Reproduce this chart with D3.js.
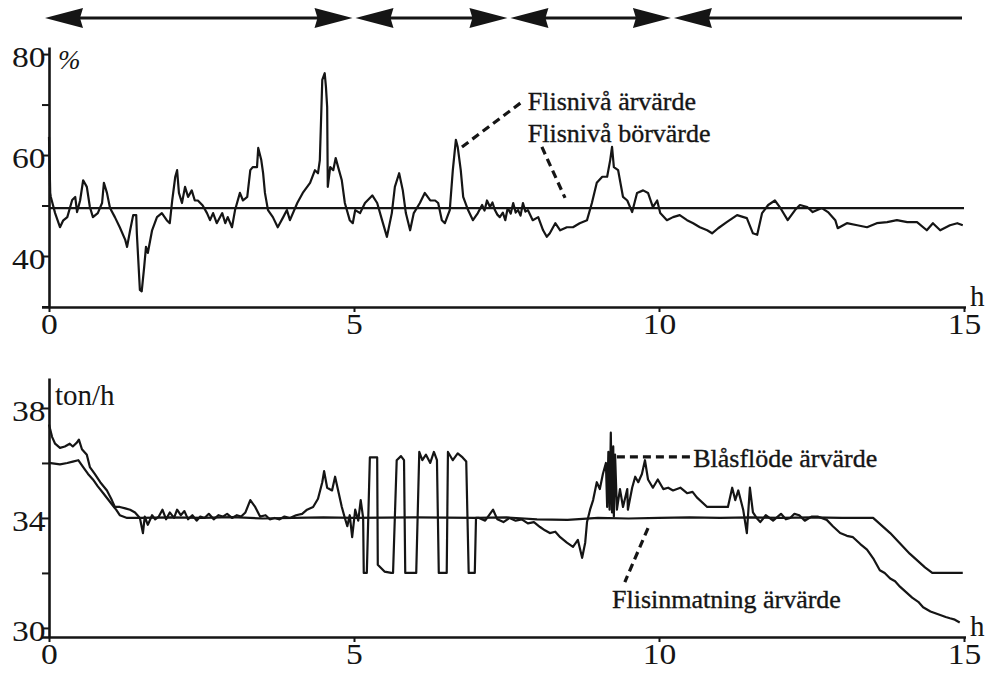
<!DOCTYPE html>
<html>
<head>
<meta charset="utf-8">
<script src="https://cdn.jsdelivr.net/npm/d3@7"></script>
<style>
  body { margin: 0; background: #fff; }
  svg { display: block; }
  text { font-family: "Liberation Serif", Tinos, "Times New Roman", "DejaVu Serif", serif; fill: #151515; }
</style>
</head>
<body>
<svg id="chart" width="991" height="678"></svg>
<script>
// ---- Data -------------------------------------------------------------
// Time axis (hours)
const hourTicks = [0, 5, 10, 15];

// Chip level, actual value (%) as [hour, value]
const flisnivaArvarde = [
  [0.00,63.6],[0.02,52.5],[0.03,51.7],[0.10,48.5],[0.18,45.7],[0.23,47.0],[0.30,47.7],[0.38,51.1],
  [0.43,51.7],[0.46,48.7],[0.51,51.0],[0.56,55.0],[0.62,53.7],[0.67,49.7],[0.72,47.7],[0.80,48.5],
  [0.87,50.5],[0.90,54.5],[0.95,52.5],[1.00,49.5],[1.08,47.7],[1.16,45.7],[1.25,43.2],[1.28,41.8],
  [1.33,45.1],[1.38,48.1],[1.43,48.1],[1.44,44.5],[1.49,33.3],[1.52,33.0],[1.56,37.8],[1.59,41.8],
  [1.62,40.6],[1.69,45.1],[1.77,47.7],[1.85,48.5],[1.93,47.1],[1.98,46.5],[2.02,51.0],[2.07,55.7],
  [2.10,57.0],[2.13,52.5],[2.18,50.5],[2.23,53.7],[2.28,51.7],[2.34,53.0],[2.39,51.0],[2.44,51.0],
  [2.52,50.0],[2.59,48.5],[2.64,47.1],[2.69,48.5],[2.75,46.5],[2.84,48.5],[2.89,46.5],[2.93,47.7],
  [3.00,45.7],[3.05,49.1],[3.13,52.5],[3.18,51.0],[3.25,51.7],[3.30,57.0],[3.34,57.6],[3.41,57.6],
  [3.43,61.4],[3.48,59.0],[3.51,56.4],[3.54,52.5],[3.59,49.1],[3.67,47.7],[3.75,45.7],[3.84,47.7],
  [3.90,49.1],[3.95,47.1],[4.07,50.5],[4.16,52.5],[4.28,54.5],[4.36,57.0],[4.41,56.4],[4.44,59.0],
  [4.48,74.9],[4.52,76.2],[4.54,73.5],[4.56,69.5],[4.57,53.7],[4.61,57.6],[4.66,57.0],[4.70,59.4],
  [4.74,57.6],[4.80,55.0],[4.85,50.5],[4.93,47.1],[4.98,46.5],[5.02,49.1],[5.10,48.5],[5.18,50.5],
  [5.30,52.0],[5.38,50.5],[5.46,47.1],[5.54,43.8],[5.62,48.5],[5.67,53.7],[5.74,56.4],[5.80,53.0],
  [5.85,48.5],[5.92,45.1],[5.98,48.5],[6.08,50.5],[6.16,52.5],[6.25,51.0],[6.33,51.0],[6.38,50.5],
  [6.44,47.1],[6.49,46.5],[6.57,49.1],[6.62,57.0],[6.67,63.0],[6.70,61.6],[6.75,57.0],[6.79,51.7],
  [6.87,49.1],[6.95,47.1],[7.03,48.5],[7.10,50.1],[7.14,49.0],[7.18,51.0],[7.23,49.7],[7.27,50.6],
  [7.31,49.1],[7.35,48.2],[7.39,47.7],[7.44,48.6],[7.48,47.1],[7.52,49.5],[7.57,48.4],[7.61,50.5],
  [7.65,48.6],[7.69,49.1],[7.73,48.0],[7.77,50.5],[7.81,48.8],[7.85,49.1],[7.93,47.1],[8.02,47.7],
  [8.10,45.1],[8.16,43.8],[8.21,44.5],[8.30,46.5],[8.38,45.1],[8.49,45.7],[8.59,45.7],[8.70,46.5],
  [8.82,47.1],[8.90,50.5],[8.98,54.5],[9.07,55.7],[9.15,55.7],[9.20,59.0],[9.23,61.6],[9.26,57.6],
  [9.33,57.0],[9.41,51.7],[9.48,51.0],[9.56,48.7],[9.64,52.5],[9.74,53.0],[9.82,52.5],[9.90,49.7],
  [9.97,51.0],[10.02,48.5],[10.13,47.1],[10.23,47.7],[10.34,48.1],[10.46,47.1],[10.56,46.5],[10.67,45.7],
  [10.79,45.1],[10.87,44.5],[10.97,45.5],[11.11,46.7],[11.28,48.1],[11.44,47.5],[11.54,44.5],[11.61,44.2],
  [11.69,48.5],[11.79,50.1],[11.90,51.0],[11.98,49.7],[12.11,47.1],[12.23,49.1],[12.31,50.1],[12.43,49.7],
  [12.52,48.7],[12.67,49.5],[12.77,48.7],[12.89,47.1],[12.93,45.5],[13.08,46.5],[13.25,46.1],[13.41,45.7],
  [13.57,46.5],[13.74,46.7],[13.90,47.1],[14.07,46.7],[14.23,46.7],[14.39,45.1],[14.49,46.5],[14.61,45.1],
  [14.77,46.1],[14.89,46.5],[14.98,46.1]
];

// Chip level, set point (%)
const flisnivaBorvarde = [[0, 49.5], [15, 49.5]];

// Blow flow, actual value (ton/h)
const blasflodeArvarde = [
  [0.00,37.4],[0.05,36.95],[0.10,36.7],[0.18,36.55],[0.26,36.6],[0.34,36.7],[0.39,36.6],[0.46,36.75],
  [0.49,36.85],[0.54,36.5],[0.62,36.3],[0.67,35.85],[0.75,35.6],[0.84,35.3],[0.95,35.0],[1.03,34.65],
  [1.08,34.4],[1.16,34.4],[1.25,34.35],[1.33,34.3],[1.41,34.2],[1.49,34.0],[1.54,33.45],[1.57,34.05],
  [1.62,33.75],[1.69,34.1],[1.74,33.95],[1.80,34.05],[1.86,34.3],[1.92,33.95],[1.98,34.2],[2.05,34.0],
  [2.10,34.3],[2.16,34.1],[2.22,34.25],[2.28,33.95],[2.35,34.1],[2.42,33.9],[2.48,34.05],[2.55,34.0],
  [2.62,34.15],[2.70,33.95],[2.78,34.1],[2.85,34.05],[2.92,34.15],[3.00,34.0],[3.08,34.1],[3.15,34.05],
  [3.22,34.2],[3.30,34.65],[3.38,34.4],[3.46,34.05],[3.55,34.1],[3.62,33.95],[3.70,34.0],[3.78,33.95],
  [3.86,34.05],[3.95,34.0],[4.05,34.1],[4.15,34.15],[4.23,34.3],[4.33,34.4],[4.41,34.7],[4.48,35.3],
  [4.51,35.7],[4.56,35.1],[4.64,35.0],[4.69,35.5],[4.74,35.0],[4.80,34.4],[4.85,34.0],[4.89,33.7],
  [4.93,34.1],[4.97,33.3],[5.02,34.3],[5.07,33.9],[5.11,34.65],[5.15,34.0],
  [5.16,32.0],[5.21,32.0],[5.26,36.2],[5.31,36.2],[5.38,36.2],[5.39,32.3],[5.50,32.05],[5.61,32.0],
  [5.64,32.0],[5.70,36.1],[5.77,36.25],[5.82,36.1],[5.84,32.0],[5.97,32.0],[6.02,32.0],[6.07,36.4],
  [6.12,36.1],[6.18,36.3],[6.25,36.0],[6.31,36.4],[6.36,36.1],[6.39,32.0],[6.52,32.0],[6.54,36.4],
  [6.62,36.1],[6.70,36.35],[6.78,36.2],[6.84,36.05],[6.88,32.0],[6.98,32.0],[7.00,34.0],
  [7.05,34.0],[7.15,33.9],[7.28,34.3],[7.35,33.95],[7.45,33.85],[7.55,34.0],[7.65,33.9],[7.75,33.95],
  [7.85,33.8],[7.95,33.85],[8.05,33.67],[8.13,33.55],[8.21,33.45],[8.30,33.5],[8.38,33.3],[8.49,33.1],
  [8.59,32.95],[8.67,33.2],[8.74,32.55],[8.79,33.1],[8.82,33.85],[8.87,34.3],[8.92,34.65],[8.98,35.3],
  [9.03,35.05],[9.08,35.6],[9.13,36.0],[9.15,34.4],[9.17,36.4],[9.19,34.3],[9.21,37.1],[9.23,34.2],
  [9.25,36.6],[9.26,34.05],[9.28,36.3],[9.31,34.3],[9.36,35.05],[9.41,34.4],[9.48,35.05],[9.49,34.3],
  [9.56,35.1],[9.61,35.5],[9.66,35.3],[9.72,35.6],[9.77,36.1],[9.82,35.4],[9.90,35.1],[9.98,35.4],
  [10.07,35.05],[10.15,35.1],[10.23,35.0],[10.35,35.1],[10.46,34.9],[10.55,34.95],[10.62,34.75],[10.79,34.4],
  [11.00,34.4],[11.13,34.4],[11.20,35.1],[11.25,34.65],[11.30,35.0],[11.38,34.3],[11.44,33.45],[11.49,35.1],
  [11.54,34.2],[11.60,34.0],[11.66,33.85],[11.75,34.1],[11.87,33.9],[12.00,34.15],[12.08,33.95],[12.15,34.0],
  [12.22,34.15],[12.30,34.1],[12.39,33.9],[12.50,34.05],[12.60,34.05],[12.75,33.93],[12.85,33.7],[12.97,33.45],
  [13.08,33.35],[13.18,33.3],[13.30,33.05],[13.41,32.85],[13.52,32.5],[13.62,32.1],[13.70,32.0],[13.79,31.8],
  [13.87,31.7],[13.95,31.5],[14.05,31.3],[14.15,31.1],[14.25,30.95],[14.33,30.75],[14.45,30.6],[14.61,30.47],
  [14.70,30.4],[14.77,30.35],[14.85,30.3],[14.93,30.2]
];

// Chip feed, actual value (ton/h)
const flisinmatningArvarde = [
  [0.00,36.0],[0.18,35.95],[0.30,36.0],[0.39,36.05],[0.48,36.1],[0.56,35.85],[0.64,35.6],[0.72,35.4],
  [0.80,35.15],[0.89,34.9],[0.96,34.7],[1.03,34.5],[1.10,34.3],[1.16,34.1],[1.28,34.0],[1.50,34.0],
  [2.00,34.02],[2.50,34.0],[3.00,34.03],[3.50,33.98],[4.00,34.0],[4.50,34.02],[5.00,34.0],[6.00,34.02],
  [7.00,34.0],[7.50,34.02],[8.00,33.95],[8.50,33.93],[9.00,34.0],[9.50,33.98],[10.00,34.0],[10.50,34.02],
  [11.00,34.0],[11.50,34.02],[12.00,34.0],[12.50,34.02],[13.00,34.0],[13.51,34.0],[13.79,33.45],[14.11,32.7],
  [14.36,32.2],[14.48,32.0],[14.98,32.0]
];

// Operating periods shown as arrows above the charts (hours)
const periodBounds = [0, 5, 7.54, 10.22, 15];
const periodEndArrow = [true, true, true, false];

// Y-axis ticks and which of them carry a label
const levelTicks = [30, 40, 50, 60, 70, 80];
const levelLabels = [40, 60, 80];
const flowTicks = [30, 32, 34, 36, 38];
const flowLabels = [30, 34, 38];

// Annotations in data coordinates: text anchor and leader line
const levelNotes = [
  { text: "Flisnivå ärvärde",  at: [7.85, 68.9], leader: [[6.77, 61.6], [7.75, 70.5]] },
  { text: "Flisnivå börvärde", at: [7.85, 62.6], leader: [[8.08, 61.6], [8.46, 51.5]] }
];
const flowNotes = [
  { text: "Blåsflöde ärvärde",     at: [10.56, 35.85], leader: [[9.31, 36.22], [10.51, 36.22]] },
  { text: "Flisinmatning ärvärde", at: [9.23, 30.72],  leader: [[9.82, 33.63], [9.44, 31.67]] }
];

// ---- Drawing ----------------------------------------------------------
const svg = d3.select("#chart");
const ink = "#151515";
const serif = '"Liberation Serif", Tinos, "Times New Roman", "DejaVu Serif", serif';

const x = d3.scaleLinear().domain([0, 15]).range([49, 964]);
const yLevel = d3.scaleLinear().domain([29.9, 81.4]).range([307, 47]);
const yFlow = d3.scaleLinear().domain([29.67, 39.09]).range([637, 378]);

function styleAxis(g) {
  g.attr("font-family", serif);
  g.select(".domain").attr("stroke", ink).attr("stroke-width", 2.6);
  g.selectAll(".tick line").attr("stroke", ink).attr("stroke-width", 2);
  g.selectAll(".tick text")
    .attr("fill", ink)
    .style("font-family", serif)
    .style("font-size", "30px");
}

function drawPanel(y, ticks, labels, unit, series, notes, hY) {
  const x0 = x.range()[0];
  const yBase = y.range()[0];

  // y axis
  const ya = svg.append("g")
    .attr("transform", `translate(${x0},0)`)
    .call(d3.axisLeft(y).tickValues(ticks).tickSize(7).tickSizeOuter(0)
      .tickFormat(d => labels.includes(d) ? d : ""));
  styleAxis(ya);
  ya.selectAll(".tick text").attr("x", -3).attr("dy", "0.42em")
    .attr("transform", "scale(1.12,1)");

  // x axis
  const xa = svg.append("g")
    .attr("transform", `translate(0,${yBase})`)
    .call(d3.axisBottom(x).tickValues(hourTicks).tickSize(5).tickSizeOuter(0).tickPadding(1));
  styleAxis(xa);
  xa.selectAll(".tick text").attr("transform", "scale(1.12,1)");
  xa.select(".domain").attr("d", `M${x0 - 7},0.5H${x.range()[1] + 2}`);

  // unit on y axis and "h" on x axis
  svg.append("text").attr("x", x0 + unit.dx).attr("y", y.range()[1] + unit.dy)
    .style("font-family", serif)
    .style("font-size", unit.size + "px").style("font-style", unit.italic ? "italic" : "normal")
    .text(unit.text);
  svg.append("text").attr("x", x.range()[1] + 6).attr("y", hY)
    .style("font-family", serif)
    .style("font-size", "29px").text("h");

  // series
  const line = d3.line().x(d => x(d[0])).y(d => y(d[1]));
  series.forEach(s => {
    svg.append("path").datum(s)
      .attr("d", line)
      .attr("fill", "none")
      .attr("stroke", ink)
      .attr("stroke-width", 2.2)
      .attr("stroke-linejoin", "round");
  });

  // annotations
  notes.forEach(n => {
    svg.append("line")
      .attr("x1", x(n.leader[0][0])).attr("y1", y(n.leader[0][1]))
      .attr("x2", x(n.leader[1][0])).attr("y2", y(n.leader[1][1]))
      .attr("stroke", ink).attr("stroke-width", 3.2).attr("stroke-dasharray", "8,5");
    svg.append("text").attr("x", x(n.at[0])).attr("y", y(n.at[1]))
      .style("font-family", serif)
      .style("font-size", "26px").attr("stroke", ink).attr("stroke-width", 0.35)
      .text(n.text);
  });
}

drawPanel(yLevel, levelTicks, levelLabels,
  { text: "%", dx: 9, dy: 22, size: 27, italic: true },
  [flisnivaBorvarde, flisnivaArvarde], levelNotes, 306);

drawPanel(yFlow, flowTicks, flowLabels,
  { text: "ton/h", dx: 6, dy: 27, size: 29, italic: false },
  [flisinmatningArvarde, blasflodeArvarde], flowNotes, 636);

// period arrows
const arrowY = 18, headLen = 38, headHalf = 10, gap = 1.5;
const band = svg.append("g");
periodBounds.slice(0, -1).forEach((start, i) => {
  const end = periodBounds[i + 1];
  const xs = x(start) - (i === 0 ? 4 : -gap);
  const xe = x(end) - (i === periodBounds.length - 2 ? 2 : gap);
  band.append("line").attr("x1", xs + 10).attr("x2", xe - (periodEndArrow[i] ? 10 : 0))
    .attr("y1", arrowY).attr("y2", arrowY)
    .attr("stroke", ink).attr("stroke-width", 2.8);
  band.append("path")
    .attr("d", `M${xs},${arrowY} L${xs + headLen},${arrowY - headHalf} L${xs + headLen - 3},${arrowY} L${xs + headLen},${arrowY + headHalf} Z`)
    .attr("fill", ink);
  if (periodEndArrow[i]) {
    band.append("path")
      .attr("d", `M${xe},${arrowY} L${xe - headLen},${arrowY - headHalf} L${xe - headLen + 3},${arrowY} L${xe - headLen},${arrowY + headHalf} Z`)
      .attr("fill", ink);
  }
});
</script>
</body>
</html>
